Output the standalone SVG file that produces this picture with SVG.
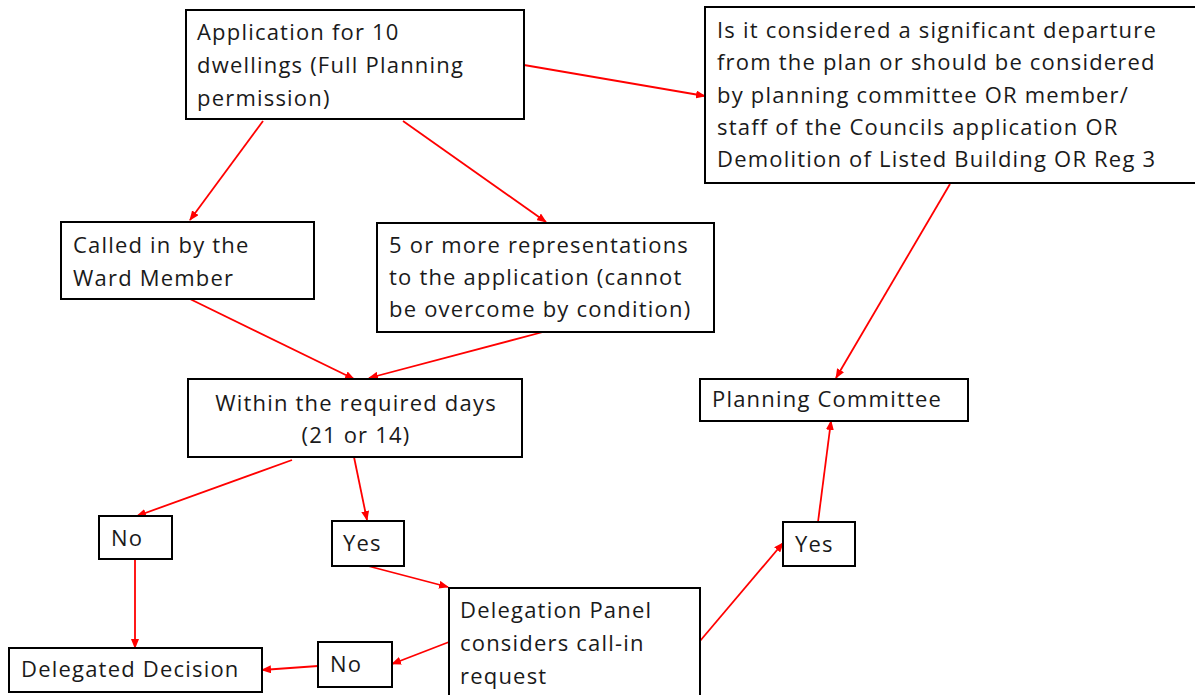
<svg xmlns="http://www.w3.org/2000/svg" width="1195" height="695" viewBox="0 0 1195 695">
<defs>
<style>
.box{fill:#fff;stroke:#000;stroke-width:2}
.t{font-family:"Open Sans","Liberation Sans",sans-serif;font-size:22px;letter-spacing:1.2px;fill:#1a1a1a}
.c{stroke:#f00;stroke-width:1.8;fill:none;marker-end:url(#ah)}
</style>
<marker id="ah" markerUnits="userSpaceOnUse" markerWidth="10" markerHeight="8" refX="9" refY="4" orient="auto">
<path d="M0,0 L10,4 L0,8 z" fill="#f00"/>
</marker>
</defs>
<rect width="1195" height="695" fill="#fff"/>
<g id="connectors">
<line class="c" x1="524" y1="65" x2="705" y2="96"/>
<line class="c" x1="263" y1="121" x2="190" y2="220"/>
<line class="c" x1="403" y1="121" x2="546" y2="222"/>
<line class="c" x1="190" y1="299" x2="354" y2="379"/>
<line class="c" x1="543" y1="332" x2="369" y2="378"/>
<line class="c" x1="950" y1="184" x2="836" y2="378"/>
<line class="c" x1="292" y1="460" x2="137" y2="516"/>
<line class="c" x1="354" y1="457" x2="367" y2="520"/>
<line class="c" x1="135" y1="559" x2="135" y2="648"/>
<line class="c" x1="368" y1="566" x2="448" y2="587"/>
<line class="c" x1="449" y1="642" x2="392" y2="664"/>
<line class="c" x1="318" y1="666" x2="262" y2="670"/>
<line class="c" x1="700" y1="641" x2="783" y2="543"/>
<line class="c" x1="818" y1="522" x2="831" y2="421"/>
</g>
<g id="n-application">
<rect class="box" x="186" y="10" width="338" height="109"/>
<text class="t" x="197" y="40">Application for 10</text>
<text class="t" x="197" y="73">dwellings (Full Planning</text>
<text class="t" x="197" y="106">permission)</text>
</g>
<g id="n-departure">
<rect class="box" x="705" y="7" width="492" height="176"/>
<text class="t" x="717" y="38">Is it considered a significant departure</text>
<text class="t" x="717" y="70">from the plan or should be considered</text>
<text class="t" x="717" y="103">by planning committee OR member/</text>
<text class="t" x="717" y="135">staff of the Councils application OR</text>
<text class="t" x="717" y="167">Demolition of Listed Building OR Reg 3</text>
</g>
<g id="n-calledin">
<rect class="box" x="61" y="222" width="253" height="77"/>
<text class="t" x="73" y="253">Called in by the</text>
<text class="t" x="73" y="286">Ward Member</text>
</g>
<g id="n-reps">
<rect class="box" x="377" y="223" width="337" height="109"/>
<text class="t" x="389" y="253">5 or more representations</text>
<text class="t" x="389" y="285">to the application (cannot</text>
<text class="t" x="389" y="317">be overcome by condition)</text>
</g>
<g id="n-within">
<rect class="box" x="188" y="379" width="334" height="78"/>
<text class="t" x="356" y="411" text-anchor="middle">Within the required days</text>
<text class="t" x="356" y="443" text-anchor="middle">(21 or 14)</text>
</g>
<g id="n-planning">
<rect class="box" x="700" y="379" width="268" height="42"/>
<text class="t" x="712" y="407">Planning Committee</text>
</g>
<g id="n-no1">
<rect class="box" x="99" y="516" width="73" height="43"/>
<text class="t" x="111" y="546">No</text>
</g>
<g id="n-yes1">
<rect class="box" x="332" y="521" width="72" height="45"/>
<text class="t" x="343" y="551">Yes</text>
</g>
<g id="n-yes2">
<rect class="box" x="783" y="522" width="72" height="44"/>
<text class="t" x="795" y="552">Yes</text>
</g>
<g id="n-delegation">
<rect class="box" x="449" y="588" width="251" height="110"/>
<text class="t" x="460" y="618">Delegation Panel</text>
<text class="t" x="460" y="651">considers call-in</text>
<text class="t" x="460" y="684">request</text>
</g>
<g id="n-no2">
<rect class="box" x="318" y="642" width="74" height="45"/>
<text class="t" x="330" y="672">No</text>
</g>
<g id="n-delegated">
<rect class="box" x="9" y="648" width="253" height="44"/>
<text class="t" x="21" y="677">Delegated Decision</text>
</g>
</svg>
